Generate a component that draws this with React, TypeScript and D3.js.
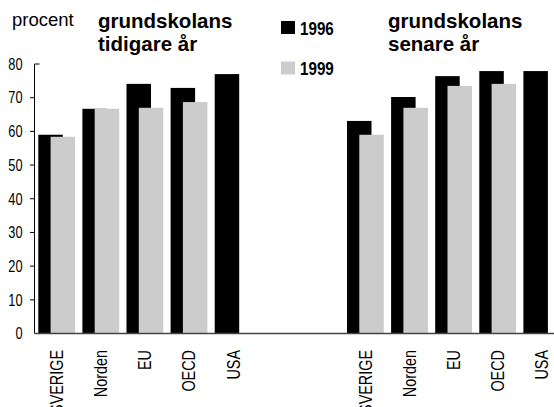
import React from "react";
import * as d3 from "d3";

const categories = ["SVERIGE", "Norden", "EU", "OECD", "USA"];
const earlier1996 = [59.0, 66.7, 74.1, 72.9, 77.0];
const earlier1999: (number | null)[] = [58.4, 66.7, 67.0, 68.7, null];
const later1996 = [63.1, 70.2, 76.4, 77.9, 77.9];
const later1999: (number | null)[] = [59.0, 67.0, 73.5, 74.1, null];
const yTicks = [0, 10, 20, 30, 40, 50, 60, 70, 80];
const seriesNames = ["1996", "1999"];
const groupTitles = [
  ["grundskolans", "tidigare år"],
  ["grundskolans", "senare år"],
];

const W = 554;
const H = 407;
const SANS = "'Liberation Sans', Arial, Helvetica, sans-serif";
const BLACK = "#000000";
const GREY = "#cccccc";
const NARROW_SCALE = 0.8;

// slots: 0-4 first group, 5-6 empty gap, 7-11 second group
const slots = d3.range(12).map(String);

export default function App() {
  const y = d3.scaleLinear().domain([0, 80]).range([333.5, 64]);
  const step = 44.1;
  const x = d3
    .scaleBand<string>()
    .domain(slots)
    .range([38.3, 38.3 + 12 * step])
    .paddingInner(0)
    .paddingOuter(0);
  const barW = 24.5;
  const greyOff = 12.3;
  const axisX = 34.5;

  const groups = [
    { start: 0, a: earlier1996, b: earlier1999 },
    { start: 7, a: later1996, b: later1999 },
  ];

  return (
    <svg
      width={W}
      height={H}
      style={{ position: "absolute", left: 0, top: 0, background: "#fff" }}
    >
      <rect x={0} y={0} width={W} height={H} fill="#fff" />
      {/* bars */}
      {groups.map((g, gi) =>
        categories.map((c, i) => {
          const slot = String(g.start + i);
          const x0 = x(slot)!;
          const v1 = g.a[i];
          const v2 = g.b[i];
          return (
            <g key={`${gi}-${c}`}>
              <rect x={x0} y={y(v1)} width={barW} height={y(0) - y(v1)} fill={BLACK} />
              {v2 != null && (
                <rect
                  x={x0 + greyOff}
                  y={y(v2)}
                  width={barW}
                  height={y(0) - y(v2)}
                  fill={GREY}
                />
              )}
              <text
                transform={`translate(${x0 + (barW + greyOff) / 2},350) rotate(-90) scale(${NARROW_SCALE},1)`}
                textAnchor="end"
                dy="0.36em"
                fontFamily={SANS}
                fontSize={18}
                fill="#000"
              >
                {c}
              </text>
            </g>
          );
        })
      )}
      {/* y axis */}
      <line x1={axisX} x2={axisX} y1={y(80)} y2={y(0)} stroke="#000" strokeWidth={1} />
      {yTicks.map((t) => (
        <g key={t}>
          {t > 0 && t < 80 && (
            <line x1={axisX - 4.5} x2={axisX} y1={y(t)} y2={y(t)} stroke="#000" strokeWidth={1} />
          )}
          {t === 80 && (
            <line x1={axisX} x2={axisX + 5} y1={y(t)} y2={y(t)} stroke="#000" strokeWidth={1} />
          )}
          <text
            transform={`translate(22.5,${y(t)}) scale(${NARROW_SCALE},1)`}
            dy="0.36em"
            textAnchor="end"
            fontFamily={SANS}
            fontSize={16}
            fill="#000"
          >
            {t}
          </text>
        </g>
      ))}
      {/* baseline */}
      <line x1={axisX} x2={W} y1={y(0)} y2={y(0)} stroke="#444" strokeWidth={1.5} />
      {/* unit label */}
      <text x={12} y={26} fontFamily={SANS} fontSize={18.5} fill="#000">
        procent
      </text>
      {/* group titles */}
      {groupTitles.map((lines, gi) => (
        <text
          key={gi}
          x={gi === 0 ? 98 : 388}
          y={27.5}
          fontFamily={SANS}
          fontWeight="bold"
          fontSize={20.5}
          fill="#000"
        >
          {lines.map((l, li) => (
            <tspan key={li} x={gi === 0 ? 98 : 388} dy={li === 0 ? 0 : 23.5}>
              {l}
            </tspan>
          ))}
        </text>
      ))}
      {/* legend */}
      {seriesNames.map((s, i) => (
        <g key={s} transform={`translate(281,${21 + i * 40.5})`}>
          <rect x={0} y={0} width={14} height={13} fill={i === 0 ? BLACK : GREY} />
          <text
            transform={`translate(19,13.5) scale(${NARROW_SCALE},1)`}
            fontFamily={SANS}
            fontWeight="bold"
            fontSize={19}
            fill="#000"
          >
            {s}
          </text>
        </g>
      ))}
    </svg>
  );
}
